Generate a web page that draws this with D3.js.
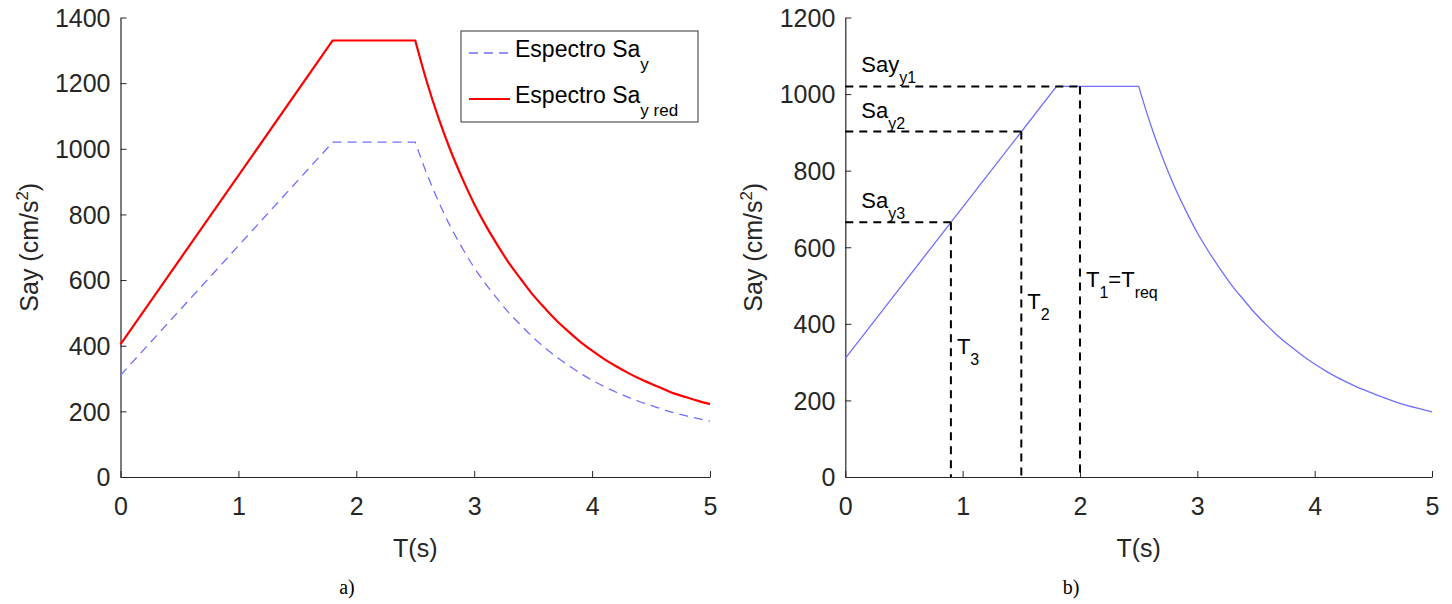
<!DOCTYPE html>
<html>
<head>
<meta charset="utf-8">
<script src="https://cdn.jsdelivr.net/npm/d3@7"></script>
<style>
  html, body { margin: 0; padding: 0; background: #fff; }
  svg { display: block; font-family: "Liberation Sans", Arial, sans-serif; }
</style>
</head>
<body>
<svg id="chart" width="1452" height="604"></svg>
<script>
// ---- data ----
const periods = [0, 1.8, 2.5, 2.6, 2.7, 2.8, 2.9, 3.0, 3.1, 3.2, 3.3, 3.4, 3.5, 3.6, 3.7, 3.8, 3.9,
                 4.0, 4.1, 4.2, 4.3, 4.4, 4.5, 4.6, 4.7, 4.8, 4.9, 5.0];
const saY     = [310, 1020, 1020, 922, 837, 762, 697, 638, 587, 541, 498, 461, 425, 394, 365, 340, 316,
                 295, 276, 259, 244, 230, 218, 206, 195, 186, 178, 170];
const saYRed  = [404, 1330, 1330, 1202, 1091, 994, 909, 832, 765, 705, 649, 601, 554, 514, 476, 443, 412,
                 385, 360, 338, 318, 300, 284, 269, 254, 243, 232, 222];

const xTicks = [0, 1, 2, 3, 4, 5];
const yTicksA = [0, 200, 400, 600, 800, 1000, 1200, 1400];
const yTicksB = [0, 200, 400, 600, 800, 1000, 1200];

const markerT  = [0.9, 1.5, 2.0];          // T3, T2, T1
const markerSa = [665, 902, 1020];         // Sa_y3, Sa_y2, Say_y1
const saLabels = [["Sa", "y3"], ["Sa", "y2"], ["Say", "y1"]];
const tLabelVal = [320, 440, 495];

const legendNames = [["Espectro Sa", "y"], ["Espectro Sa", "y red"]];

// ---- setup ----
const svg = d3.select("#chart");
const axisColor = "#262626";
const blue = "#6f6fff";
const red = "#ff0000";

const panels = [
  { x0: 120.5, x1: 710, yMax: 1400, ticks: yTicksA, label: "a)", labelX: 347 },
  { x0: 845.3, x1: 1432, yMax: 1200, ticks: yTicksB, label: "b)", labelX: 1071 }
];
const yTop = 17.5, yBot = 477;

function makeAxes(p) {
  const x = d3.scaleLinear().domain([0, 5]).range([p.x0, p.x1]);
  const y = d3.scaleLinear().domain([0, p.yMax]).range([yBot, yTop]);
  const gx = svg.append("g").attr("transform", `translate(0,${yBot})`)
    .call(d3.axisBottom(x).tickValues(xTicks).tickFormat(d3.format("d"))
      .tickSizeInner(-6).tickSizeOuter(0).tickPadding(20));
  const gy = svg.append("g").attr("transform", `translate(${p.x0},0)`)
    .call(d3.axisLeft(y).tickValues(p.ticks).tickFormat(d3.format("d"))
      .tickSizeInner(-6).tickSizeOuter(0).tickPadding(10));
  [gx, gy].forEach(g => {
    g.select(".domain").attr("stroke", axisColor).attr("stroke-width", 1.2);
    g.selectAll(".tick line").attr("stroke", axisColor).attr("stroke-width", 1);
    g.selectAll(".tick text").attr("fill", axisColor)
      .style("font-family", "'Liberation Sans', Arial, sans-serif").style("font-size", "25px");
  });
  gy.selectAll(".tick text").attr("dy", "0.35em");
  // axis titles
  svg.append("text").attr("x", (p.x0 + p.x1) / 2).attr("y", 557)
    .attr("text-anchor", "middle").attr("fill", axisColor).style("font-size", "25px").text("T(s)");
  const yt = svg.append("text")
    .attr("transform", `translate(${p.x0 - 83},${(yTop + yBot) / 2}) rotate(-90)`)
    .attr("text-anchor", "middle").attr("fill", axisColor).style("font-size", "25px");
  yt.append("tspan").text("Say (cm/s");
  yt.append("tspan").attr("dy", -10).style("font-size", "17px").text("2");
  yt.append("tspan").attr("dy", 10).text(")");
  // panel label
  svg.append("text").attr("x", p.labelX).attr("y", 594).attr("text-anchor", "middle")
    .style("font-family", "'Liberation Serif', 'Times New Roman', serif").style("font-size", "20px")
    .attr("fill", "#000").text(p.label);
  return { x, y };
}

function drawSpectrum(sc, values, color, width, dash) {
  const pts = periods.map((t, i) => [t, values[i]]);
  const rise = pts.filter(d => d[0] <= 2.5);
  const decay = pts.filter(d => d[0] >= 2.5);
  const lin = d3.line().x(d => sc.x(d[0])).y(d => sc.y(d[1]));
  const mono = d3.line().x(d => sc.x(d[0])).y(d => sc.y(d[1])).curve(d3.curveMonotoneX);
  const path = lin(rise) + mono(decay).replace(/^M/, "L");
  svg.append("path").attr("d", path).attr("fill", "none").attr("stroke", color)
    .attr("stroke-width", width).attr("stroke-dasharray", dash || null)
    .attr("stroke-linejoin", "round");
}

// ---- panel a ----
const A = makeAxes(panels[0]);
drawSpectrum(A, saY, blue, 1.3, "9,6");
drawSpectrum(A, saYRed, red, 2.2, null);

// legend
const lg = svg.append("g");
lg.append("rect").attr("x", 461).attr("y", 31).attr("width", 237).attr("height", 91)
  .attr("fill", "#fff").attr("stroke", "#333").attr("stroke-width", 1);
const legendColors = [blue, red];
const legendDash = ["9,6", null];
const legendWidths = [1.3, 2.2];
legendNames.forEach((nm, i) => {
  const ly = 53 + i * 46;
  lg.append("line").attr("x1", 469).attr("x2", 510).attr("y1", ly).attr("y2", ly)
    .attr("stroke", legendColors[i]).attr("stroke-width", legendWidths[i])
    .attr("stroke-dasharray", legendDash[i]);
  const t = lg.append("text").attr("x", 515).attr("y", ly + 4).attr("fill", "#000").style("font-size", "23px");
  t.append("tspan").text(nm[0]);
  t.append("tspan").attr("dy", 13).style("font-size", "17px").text(nm[1]);
});

// ---- panel b ----
const B = makeAxes(panels[1]);
drawSpectrum(B, saY, blue, 1.3, null);

markerT.forEach((t, i) => {
  const xv = B.x(t), yv = B.y(markerSa[i]);
  svg.append("line").attr("x1", B.x(0)).attr("x2", xv).attr("y1", yv).attr("y2", yv)
    .attr("stroke", "#000").attr("stroke-width", 2).attr("stroke-dasharray", "8,6");
  svg.append("line").attr("x1", xv).attr("x2", xv).attr("y1", yv).attr("y2", B.y(0))
    .attr("stroke", "#000").attr("stroke-width", 2).attr("stroke-dasharray", "8,6");
  const st = svg.append("text").attr("x", B.x(0) + 16).attr("y", yv - 14)
    .attr("fill", "#000").style("font-size", "22px");
  st.append("tspan").text(saLabels[i][0]);
  st.append("tspan").attr("dy", 11).style("font-size", "16px").text(saLabels[i][1]);
});

// T labels
const tNames = [["T", "3"], ["T", "2"], ["T", "1"]];
markerT.forEach((t, i) => {
  const tt = svg.append("text").attr("x", B.x(t) + 6).attr("y", B.y(tLabelVal[i]))
    .attr("fill", "#000").style("font-size", "22px");
  tt.append("tspan").text(tNames[i][0]);
  tt.append("tspan").attr("dy", 11).style("font-size", "16px").text(tNames[i][1]);
  if (i === 2) {
    tt.append("tspan").attr("dy", -11).text("=T");
    tt.append("tspan").attr("dy", 11).style("font-size", "16px").text("req");
  }
});
</script>
</body>
</html>
